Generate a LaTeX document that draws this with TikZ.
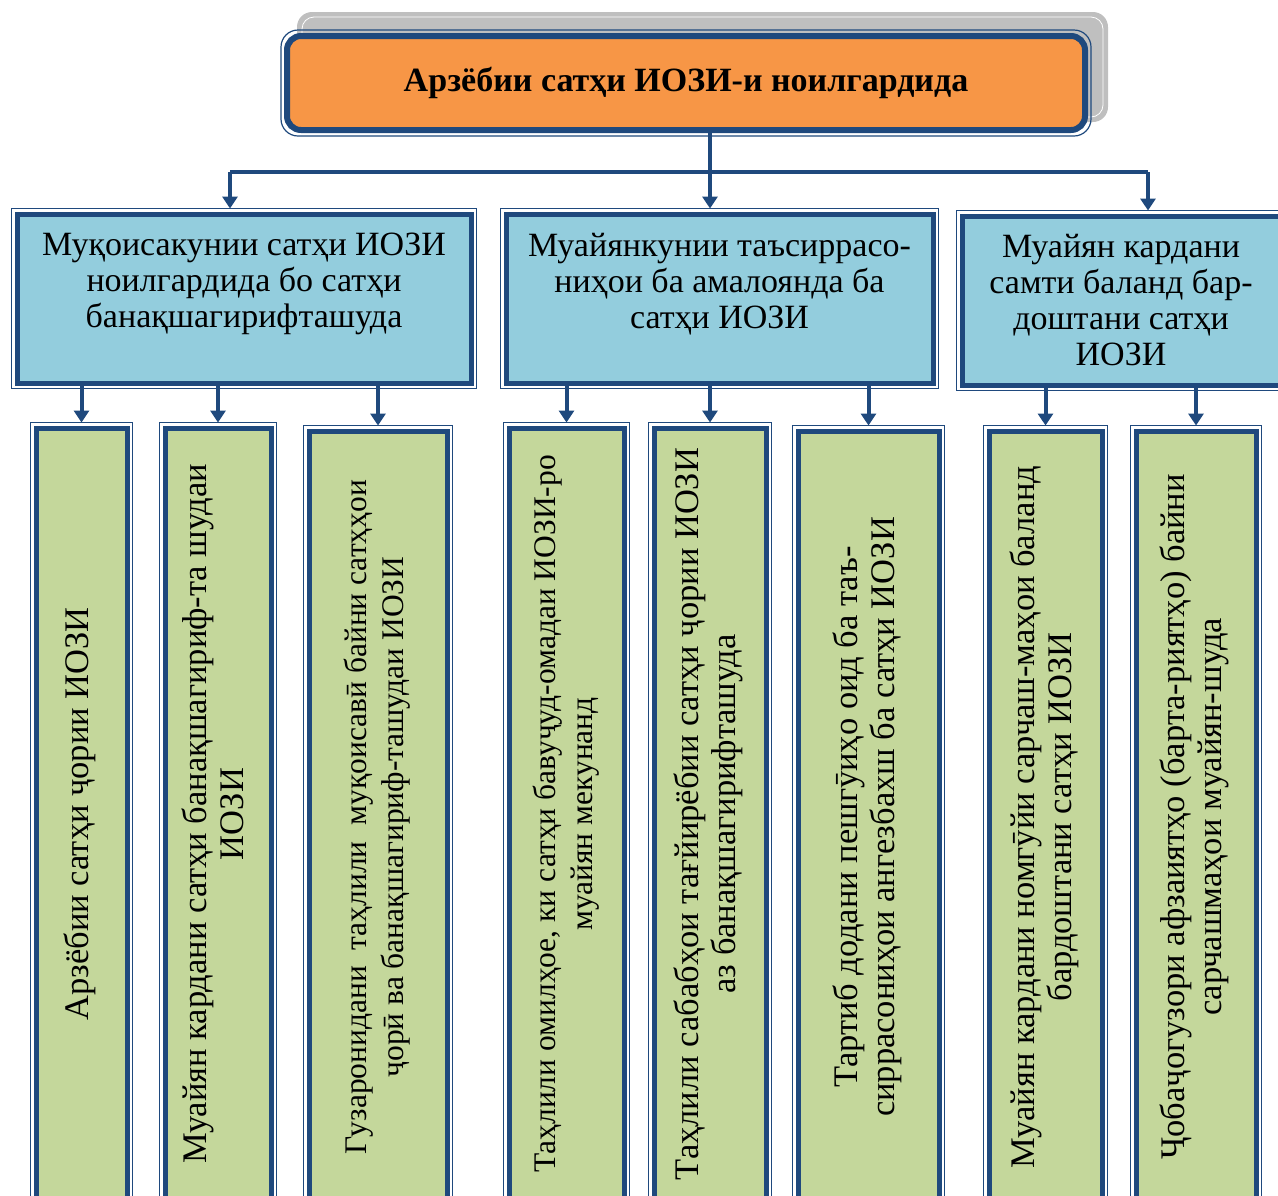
\documentclass[tikz,border=0pt]{standalone}
\usepackage{fontspec}
\setmainfont{Liberation Serif}
\usetikzlibrary{arrows.meta}

\definecolor{linkblue}{RGB}{31,73,125}
\definecolor{titlefill}{RGB}{247,150,70}
\definecolor{midfill}{RGB}{147,205,221}
\definecolor{leaffill}{RGB}{196,215,155}
\definecolor{shadowgray}{RGB}{191,191,191}

\newcommand{\uptext}[1]{\rotatebox{90}{\begin{tabular}{@{}c@{}}#1\end{tabular}}}

\tikzset{
  bigfont/.style={font=\fontsize{34}{36}\selectfont},
  leaffont/.style={font=\fontsize{34.5}{37}\selectfont},
  titlebox/.style={draw=linkblue, line width=6pt, fill=titlefill, rounded corners=14pt,
    inner sep=0pt, font=\fontsize{34}{36}\selectfont\bfseries},
  midbox/.style={draw=linkblue, line width=5pt, fill=midfill, inner sep=0pt,
    align=center, minimum height=169pt, bigfont},
  leafbox/.style={draw=linkblue, line width=5pt, fill=leaffill, inner sep=0pt,
    minimum height=772pt, leaffont},
  frame/.style={draw=linkblue, line width=1.2pt},
  link/.style={draw=linkblue, line width=4pt},
  arrow/.style={link, -{Triangle[width=15pt,length=12pt]}, shorten >=3pt}
}

\begin{document}
\begin{tikzpicture}[x=1pt,y=-1pt]
  \useasboundingbox (0,0) rectangle (1278,1195);
  \clip (0,0) rectangle (1278,1195);

  % title with its shadow
  \fill[shadowgray, rounded corners=15pt] (297,12) rectangle (1108,122);
  \draw[white, line width=0.8pt, rounded corners=12pt] (302,17) rectangle (1103,117);
  \node[titlebox, minimum width=798pt, minimum height=94pt] (title) at (686,83)
    {Арзёбии сатҳи ИОЗИ-и ноилгардида};
  \draw[frame, rounded corners=17pt] ([shift={(-3pt,-3pt)}]title.south west)
    rectangle ([shift={(3pt,3pt)}]title.north east);

  % second level
  \node[midbox, minimum width=454pt] (m1) at (244,298.5)
    {Муқоисакунии сатҳи ИОЗИ\\ноилгардида бо сатҳи\\банақшагирифташуда\\\mbox{}};
  \node[midbox, minimum width=427pt] (m2) at (719.5,298.5)
    {Муайянкунии таъсиррасо-\\ниҳои ба амалоянда ба\\сатҳи ИОЗИ\\\mbox{}};
  \node[midbox, minimum width=318pt] (m3) at (1121,300.5)
    {Муайян кардани\\самти баланд бар-\\доштани сатҳи\\ИОЗИ};

  % third level
  \node[leafbox, minimum width=91pt] (b1) at (81.5,814)
    {\uptext{Арзёбии сатҳи ҷории ИОЗИ}};
  \node[leafbox, minimum width=106pt] (b2) at (218,814)
    {\uptext{Муайян кардани сатҳи банақшагириф-та шудаи\\ИОЗИ}};
  \node[leafbox, minimum width=138pt, font=\fontsize{31.5}{37}\selectfont] (b3) at (378,817)
    {\uptext{Гузаронидани\hspace{0.5em}таҳлили\hspace{0.5em}муқоисавӣ байни сатҳҳои\\ҷорӣ ва банақшагириф-ташудаи ИОЗИ}};
  \node[leafbox, minimum width=115pt, font=\fontsize{31.5}{37}\selectfont] (b4) at (566.5,814)
    {\uptext{Таҳлили омилҳое, ки сатҳи бавуҷуд-омадаи ИОЗИ-ро\\муайян мекунанд}};
  \node[leafbox, minimum width=112pt] (b5) at (710,814)
    {\uptext{Таҳлили сабабҳои тағйирёбии сатҳи ҷории ИОЗИ\\аз банақшагирифташуда}};
  \node[leafbox, minimum width=141pt] (b6) at (868.5,817)
    {\uptext{Тартиб додани пешгӯиҳо оид ба таъ-\\сиррасониҳои ангезбахш ба сатҳи ИОЗИ}};
  \node[leafbox, minimum width=113pt] (b7) at (1045.5,817)
    {\uptext{Муайян кардани номгӯйи сарчаш-маҳои баланд\\бардоштани сатҳи ИОЗИ}};
  \node[leafbox, minimum width=120pt] (b8) at (1196,817)
    {\uptext{Ҷобаҷогузори афзаиятҳо (барта-риятҳо) байни\\сарчашмаҳои муайян-шуда}};

  \foreach \n in {m1,m2,m3,b1,b2,b3,b4,b5,b6,b7,b8}
    \draw[frame] ([shift={(-3pt,-3pt)}]\n.south west) rectangle ([shift={(3pt,3pt)}]\n.north east);

  % connectors
  \coordinate (j1) at (230,172);
  \coordinate (j2) at (710,172);
  \coordinate (j3) at (1148,172);
  \draw[link] (title.south -| j2) -- (j2);
  \draw[link] (j1) -- (j3);
  \draw[arrow] (j1) -- (j1 |- m1.north);
  \draw[arrow] (j2) -- (j2 |- m2.north);
  \draw[arrow] (j3) -- (j3 |- m3.north);

  \foreach \a/\b in {m1/b1,m1/b2,m1/b3,m2/b4,m2/b5,m2/b6,m3/b7,m3/b8}
    \draw[arrow] (\b.north |- \a.south) -- (\b.north);
\end{tikzpicture}
\end{document}
